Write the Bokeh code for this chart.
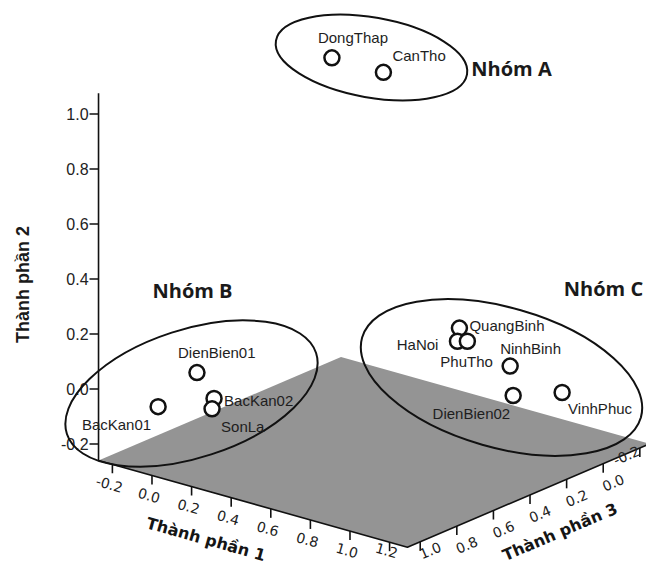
import numpy as np
from bokeh.plotting import figure
from bokeh.models import Range1d, ColumnDataSource
from bokeh.core.properties import value
from bokeh.embed import file_html
from bokeh.resources import INLINE

# ---------------- data ----------------
provinces = ["DongThap", "CanTho", "DienBien01", "BacKan01", "BacKan02", "SonLa",
             "QuangBinh", "HaNoi", "PhuTho", "NinhBinh", "DienBien02", "VinhPhuc"]
comp1 = [0.04, 0.30, 0.07, -0.08, 0.11, 0.10, 0.61, 0.60, 0.65, 0.82, 1.02, 0.99]
comp2 = [1.00, 1.00, 0.08, -0.06, -0.02, -0.06, 0.11, 0.06, 0.07, 0.00, -0.01, -0.09]
comp3 = [0.13, 0.13, 0.90, 0.95, 0.85, 0.85, 0.05, 0.05, 0.05, 0.00, 0.20, -0.10]

group_names = ["Nhóm A", "Nhóm B", "Nhóm C"]

comp1_ticks = [-0.2, 0.0, 0.2, 0.4, 0.6, 0.8, 1.0, 1.2]
comp2_ticks = [-0.2, 0.0, 0.2, 0.4, 0.6, 0.8, 1.0]
comp3_ticks = [-0.2, 0.0, 0.2, 0.4, 0.6, 0.8, 1.0]
comp1_range = (-0.27, 1.29)
comp2_range = (-0.26, 1.075)
comp3_range = (-0.255, 1.07)

axis_titles = ["Thành phần 1", "Thành phần 2", "Thành phần 3"]

# ---------------- projection (oblique 3D view) ----------------
W, H = 646, 566
TOP = 582                # y of the canvas top in the (y-up) drawing units
ORIGIN = (347.3, 262.0)
E1 = (198.0, -55.6)      # screen vector of one unit of component 1
E2 = (0.0, 275.0)        # component 2 (vertical)
E3 = (-183.0, -78.0)     # component 3


def proj(c1, c2, c3):
    c1, c2, c3 = (np.asarray(v, dtype=float) for v in (c1, c2, c3))
    x = ORIGIN[0] + E1[0] * c1 + E2[0] * c2 + E3[0] * c3
    y = ORIGIN[1] + E1[1] * c1 + E2[1] * c2 + E3[1] * c3
    return x, y


ang1 = np.arctan2(E1[1], E1[0])
ang3 = np.arctan2(-E3[1], -E3[0])

p = figure(width=W, height=H, x_range=Range1d(0, W), y_range=Range1d(TOP - H, TOP),
           x_axis_type=None, y_axis_type=None, toolbar_location=None,
           output_backend="svg", min_border=0)
p.outline_line_color = None
p.grid.visible = False
p.background_fill_color = "white"

c1a, c1b = comp1_range
c2a, c2b = comp2_range
c3a, c3b = comp3_range
INK = "#111111"

# floor
fx, fy = proj([c1a, c1b, c1b, c1a], [c2a] * 4, [c3b, c3b, c3a, c3a])
p.patch(list(fx), list(fy), fill_color="#949494", line_color=None)

# front edges (axes 1 and 3)
ex, ey = proj([c1a, c1b, c1b], [c2a] * 3, [c3b, c3b, c3a])
p.line(list(ex), list(ey), line_color=INK, line_width=1.6)

# vertical axis
vx, vy = proj([c1a, c1a], [c2a, c2b], [c3b, c3b])
p.line(list(vx), list(vy), line_color=INK, line_width=1.6)

TICK = 9
LABEL_FONT = value("Liberation Sans")
MIN_Y = TOP - H + 16     # keep rotated labels inside the canvas
MAX_X = W - 20

# comp2 ticks
tx, ty = proj([c1a] * len(comp2_ticks), comp2_ticks, [c3b] * len(comp2_ticks))
p.segment(x0=tx - TICK, y0=ty, x1=tx, y1=ty, line_color=INK, line_width=1.6)
p.text(x=tx, y=ty, text=[f"{t:.1f}" for t in comp2_ticks], x_offset=-10,
       text_align="right", text_baseline="middle", text_font=LABEL_FONT,
       text_font_size="16px", text_color="#222222")

# comp1 ticks
tx, ty = proj(comp1_ticks, [c2a] * len(comp1_ticks), [c3b] * len(comp1_ticks))
p.segment(x0=tx, y0=ty, x1=tx, y1=ty - TICK, line_color=INK, line_width=1.6)
lx = tx - 3
ly = np.maximum(ty - 20, MIN_Y)
p.text(x=lx, y=ly, text=[f"{t:.1f}" for t in comp1_ticks],
       angle=ang1, text_align="center", text_baseline="middle",
       text_font=value("DejaVu Sans"), text_font_size="14px", text_color="#222222")

# comp3 ticks
tx, ty = proj([c1b] * len(comp3_ticks), [c2a] * len(comp3_ticks), comp3_ticks)
p.segment(x0=tx, y0=ty, x1=tx, y1=ty - TICK, line_color=INK, line_width=1.6)
raw_x = tx + 10
excess = np.maximum(raw_x - MAX_X, 0)
lx = raw_x - excess
ly = np.maximum(ty - 19, MIN_Y) + 0.5 * excess
p.text(x=lx, y=ly, text=[f"{t:.1f}" for t in comp3_ticks],
       angle=ang3, text_align="center", text_baseline="middle",
       text_font=value("DejaVu Sans"), text_font_size="14px", text_color="#222222")

# axis titles
t1x, t1y = proj(0.5, c2a, c3b)
p.text(x=[float(t1x)], y=[float(t1y)], text=[axis_titles[0]], x_offset=-45, y_offset=36,
       angle=ang1, text_align="center", text_baseline="middle",
       text_font=value("DejaVu Sans"), text_font_style="bold", text_font_size="16px",
       text_color="#151515")
t3x, t3y = proj(c1b, c2a, 0.4)
p.text(x=[float(t3x)], y=[float(t3y)], text=[axis_titles[2]], x_offset=30, y_offset=37,
       angle=ang3, text_align="center", text_baseline="middle",
       text_font=value("DejaVu Sans"), text_font_style="bold", text_font_size="16px",
       text_color="#151515")
t2x, t2y = proj(c1a, 0.38, c3b)
p.text(x=[float(t2x)], y=[float(t2y)], text=[axis_titles[1]], x_offset=-76,
       angle=np.pi / 2, text_align="center", text_baseline="middle",
       text_font=LABEL_FONT, text_font_style="bold", text_font_size="18px",
       text_color="#1a1a1a")

# group ellipses (annotations drawn by hand on the original)
ell_x = [371, 191, 501]
ell_y = [525, 189, 205]
ell_w = [194, 262, 290]
ell_h = [80, 128, 140]
ell_a = [-10, 18, -16]
p.ellipse(x=ell_x, y=ell_y, width=ell_w, height=ell_h, angle=np.radians(ell_a),
          fill_color=None, line_color=INK, line_width=2)
p.text(x=[511, 192, 603], y=[514, 292, 294], text=group_names, text_align="center",
       text_baseline="middle", text_font=value("Open Sans"), text_font_style="bold",
       text_font_size="20px", text_color="#1a1a1a")

# points
px, py = proj(comp1, comp2, comp3)
src = ColumnDataSource(dict(x=px, y=py, name=provinces))
p.scatter("x", "y", source=src, size=15, fill_color="white", line_color=INK,
          line_width=2.5)

# point labels
lab_dx = [-14, 9, -19, -7, 10, 9, 10, -19, -27, -10, -3, 6]
lab_dy = [-20, -17, -20, 18, 2, 18, -3, 3, 20, -18, 18, 16]
lab_align = ["left", "left", "left", "right", "left", "left", "left", "right",
             "left", "left", "right", "left"]
for i in range(len(provinces)):
    p.text(x=[float(px[i])], y=[float(py[i])], text=[provinces[i]], x_offset=lab_dx[i],
           y_offset=lab_dy[i], text_align=lab_align[i], text_baseline="middle",
           text_font=LABEL_FONT, text_font_size="15px", text_color="#1e1e1e")

open("out.html", "w").write(file_html(p, INLINE))
